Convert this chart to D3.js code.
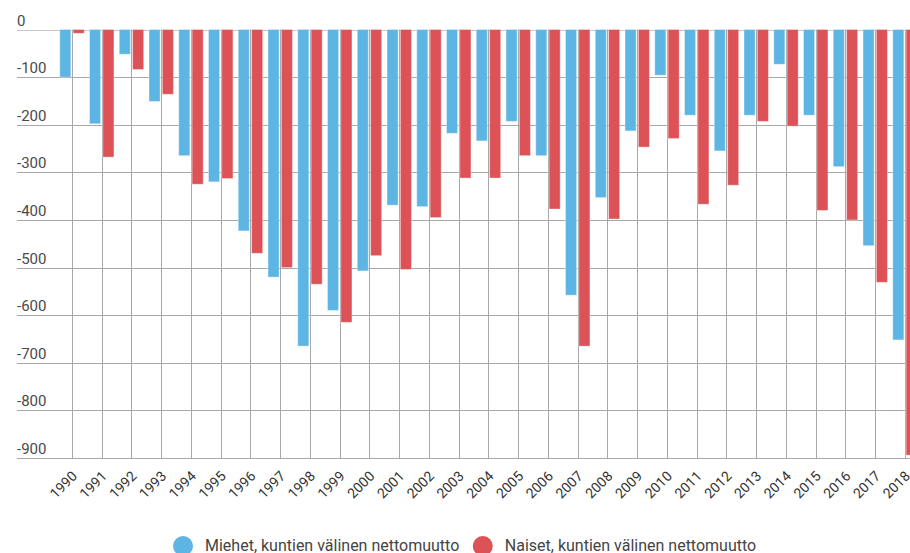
<!DOCTYPE html>
<html>
<head>
<meta charset="utf-8">
<script src="https://cdn.jsdelivr.net/npm/d3@7"></script>
<style>
  body { margin: 0; background: #fff; }
  svg { display: block; font-family: Roboto, "Noto Sans", sans-serif; }
</style>
</head>
<body>
<div id="graf"></div>
<script>
// Datos
const years = ['1990', '1991', '1992', '1993', '1994', '1995', '1996', '1997', '1998', '1999',
  '2000', '2001', '2002', '2003', '2004', '2005', '2006', '2007', '2008', '2009',
  '2010', '2011', '2012', '2013', '2014', '2015', '2016', '2017', '2018']
const miehet = [-100, -198, -52, -151, -265, -320, -423, -520, -665, -590,
  -507, -369, -372, -218, -234, -193, -265, -558, -353, -213,
  -96, -180, -255, -180, -73, -180, -288, -454, -652]
const naiset = [-8, -268, -84, -136, -325, -313, -470, -500, -535, -615,
  -475, -504, -395, -312, -312, -265, -377, -665, -398, -247,
  -229, -367, -327, -193, -203, -380, -400, -531, -894]
const series = ['Miehet, kuntien välinen nettomuutto', 'Naiset, kuntien välinen nettomuutto']
const colors = ['#5db5e4', '#dc5256']
const yTicks = [0, -100, -200, -300, -400, -500, -600, -700, -800, -900]

const anchoTotal = 910
const altoTotal = 553

const svg = d3.select('#graf')
  .append('svg')
  .attr('width', anchoTotal)
  .attr('height', altoTotal)

// Escaladores
const x = d3.scaleBand()
  .domain(years)
  .range([57.1, 57.1 + years.length * 29.75])

const x1 = d3.scaleBand()
  .domain(series)
  .range([0, x.bandwidth()])
  .paddingInner(0.17)
  .paddingOuter(0.2)

const y = d3.scaleLinear()
  .domain([-900, 0])
  .range([458, 29.5])

// Rejilla horizontal
svg.append('g')
  .selectAll('line')
  .data(yTicks)
  .enter()
  .append('line')
  .attr('x1', 17)
  .attr('x2', anchoTotal)
  .attr('y1', (d) => Math.round(y(d)) + 0.5)
  .attr('y2', (d) => Math.round(y(d)) + 0.5)
  .attr('stroke', (d) => d === 0 ? '#c8c8c8' : '#a8a8a8')
  .attr('stroke-width', 1)

// Rejilla vertical
svg.append('g')
  .selectAll('line')
  .data(years)
  .enter()
  .append('line')
  .attr('x1', (d) => Math.round(x(d) + x.bandwidth() / 2) + 0.5)
  .attr('x2', (d) => Math.round(x(d) + x.bandwidth() / 2) + 0.5)
  .attr('y1', y(0))
  .attr('y2', y(-900))
  .attr('stroke', '#a8a8a8')
  .attr('stroke-width', 1)

// Etiquetas eje Y
svg.append('g')
  .selectAll('text')
  .data(yTicks)
  .enter()
  .append('text')
  .attr('x', 17)
  .attr('y', (d) => y(d) - 4)
  .attr('fill', '#4a4a4a')
  .attr('font-size', 15)
  .text((d) => d)

// Barras
const tabla = years.map((year, i) => ({ year, values: [miehet[i], naiset[i]] }))

const grupos = svg.append('g')
  .selectAll('g')
  .data(tabla)
  .enter()
  .append('g')
  .attr('transform', (d) => `translate(${x(d.year)}, 0)`)

grupos.selectAll('rect')
  .data((d) => d.values.map((v, i) => ({ key: series[i], value: v, color: colors[i] })))
  .enter()
  .append('rect')
  .attr('x', (d) => x1(d.key))
  .attr('width', x1.bandwidth())
  .attr('y', y(0))
  .attr('height', (d) => y(d.value) - y(0))
  .attr('fill', (d) => d.color)
  .attr('stroke', '#fff')
  .attr('stroke-opacity', 0.35)
  .attr('stroke-width', 1)

// Etiquetas eje X
svg.append('g')
  .selectAll('text')
  .data(years)
  .enter()
  .append('text')
  .attr('transform', (d) => `translate(${x(d) + x.bandwidth() / 2 + 6}, 477) rotate(-45)`)
  .attr('text-anchor', 'end')
  .attr('fill', '#333')
  .attr('font-size', 14)
  .text((d) => d)

// Leyenda
const leyenda = svg.append('g')
let lx = 183
series.forEach((s, i) => {
  leyenda.append('circle')
    .attr('cx', lx)
    .attr('cy', 546)
    .attr('r', 10)
    .attr('fill', colors[i])
  const t = leyenda.append('text')
    .attr('x', lx + 22)
    .attr('y', 551)
    .attr('fill', '#444')
    .attr('font-size', 16)
    .text(s)
  lx += 22 + t.node().getComputedTextLength() + 23.5
})
</script>
</body>
</html>
